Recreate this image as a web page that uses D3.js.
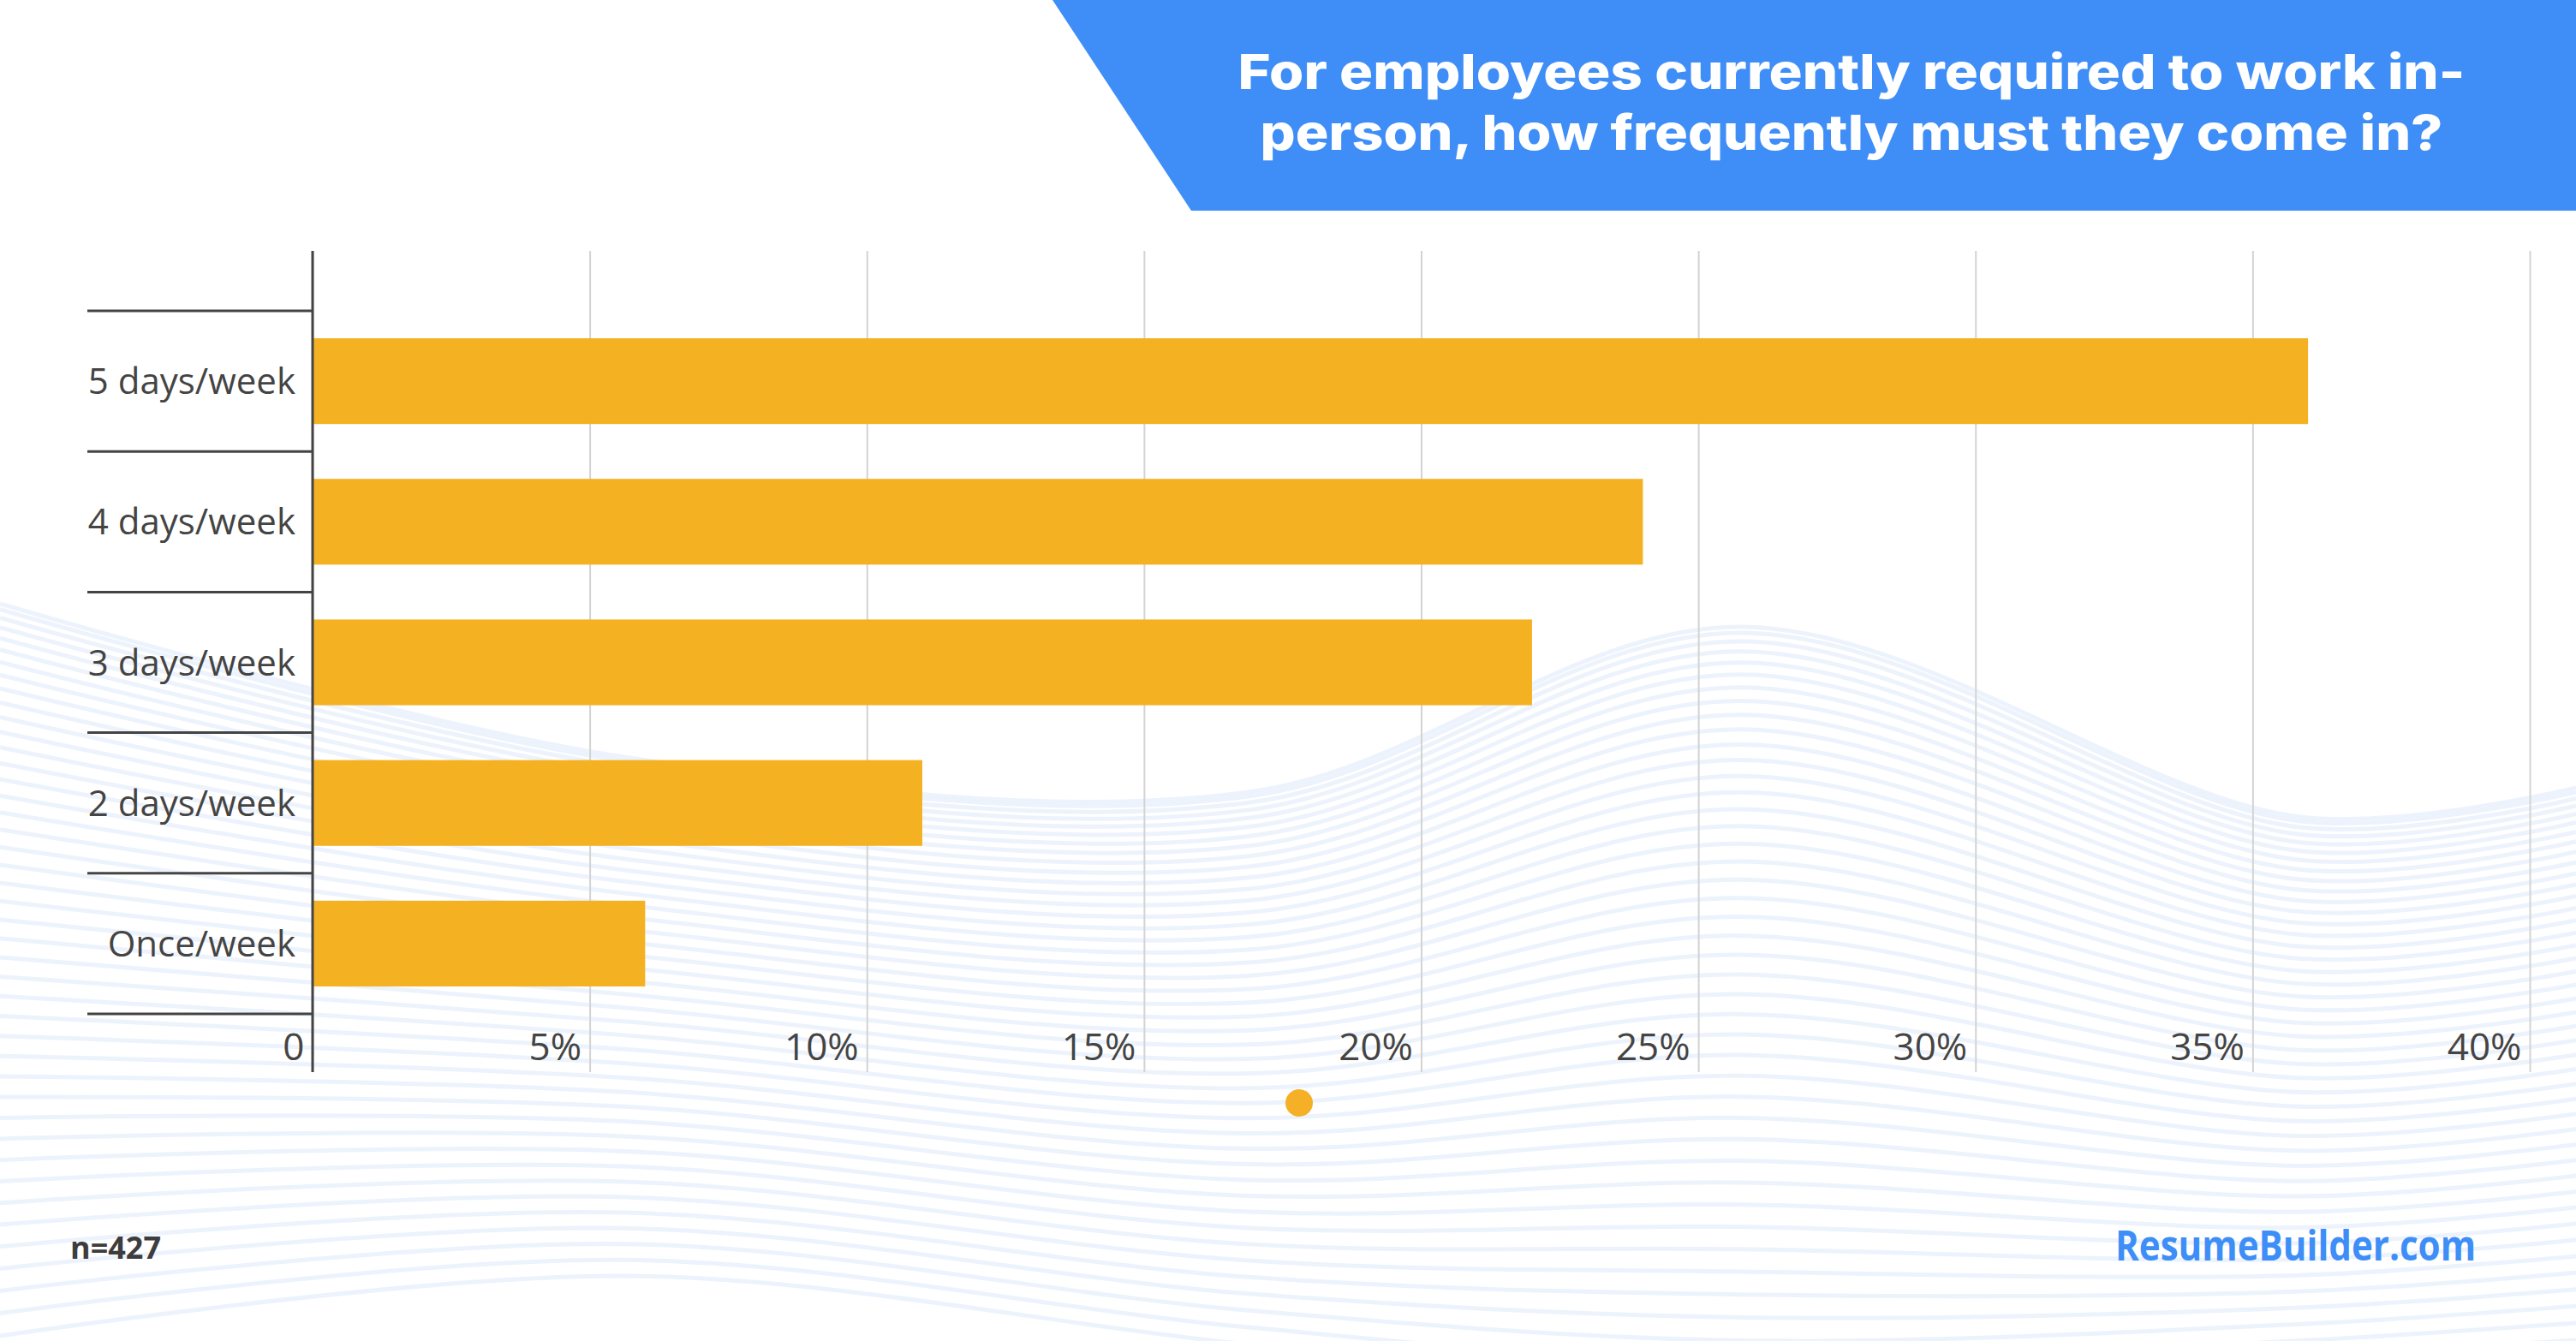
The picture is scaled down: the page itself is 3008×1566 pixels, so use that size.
<!DOCTYPE html>
<html lang="en">
<head>
  <meta charset="UTF-8">
  <title>in-person frequency</title>
  <script src="https://cdn.jsdelivr.net/npm/d3@7"></script>
  <style>
    body { margin: 0; background: #fff; }
    svg { display: block; }
  </style>
</head>
<body>
<script>
let width = 3008;
let height = 1566;

// data
let categories = ['5 days/week', '4 days/week', '3 days/week', '2 days/week', 'Once/week'];
let values = [36, 24, 22, 11, 6];
let xTicks = [0, 5, 10, 15, 20, 25, 30, 35, 40];
let titleLines = ['For employees currently required to work in-', 'person, how frequently must they come in?'];
let sampleNote = 'n=427';
let brand = 'ResumeBuilder.com';

// background wave contours (decoration only)
let waveX = [0, 729, 1458, 2033, 2686, 3008];
let waveTop = [705, 884, 925, 732, 954, 920];
let waveBottom = [1560, 1490, 1570, 1620, 1585, 1565];

let plotTop = 293;
let plotBottom = 1252;

let svg = d3.select('body')
  .append('svg')
  .attr('width', width)
  .attr('height', height);

function renderWaves() {
  let g = svg.append('g').attr('class', 'waves');
  let line = d3.line().curve(d3.curveCatmullRom.alpha(0.5));
  let n = 42;
  for (let i = 0; i <= n; i++) {
    let t = Math.pow(i / n, 1.3);
    let pts = waveX.map((x, k) => [x, waveTop[k] * (1 - t) + waveBottom[k] * t]);
    g.append('path')
      .attr('d', line(pts))
      .attr('fill', 'none')
      .attr('stroke', '#e3ecfa')
      .attr('stroke-opacity', 0.65)
      .attr('stroke-width', 5);
  }
}

let x = d3.scaleLinear()
  .domain([0, 40])
  .range([365, 2954]);

let y = d3.scaleBand()
  .domain(categories)
  .range([363, 1184])
  .paddingInner(0.39)
  .paddingOuter(0.195);

function renderGrid() {
  let xAxis = d3.axisBottom(x)
    .tickValues(xTicks)
    .tickSize(-(plotBottom - plotTop))
    .tickFormat(d => d === 0 ? '0' : d + '%');

  let g = svg.append('g')
    .attr('class', 'x-axis')
    .attr('transform', 'translate(0,' + plotBottom + ')')
    .call(xAxis);

  g.select('.domain').remove();
  g.selectAll('.tick line')
    .attr('stroke', '#d3d3d3')
    .attr('stroke-width', 2);
  g.selectAll('.tick text')
    .attr('x', -10)
    .attr('y', -14)
    .attr('dy', 0)
    .attr('text-anchor', 'end')
    .attr('fill', '#444')
    .style('font-family', '"Open Sans", sans-serif')
    .style('font-size', '44px');
}

function renderBars() {
  svg.append('g')
    .attr('class', 'bars')
    .selectAll('rect')
    .data(categories)
    .join('rect')
    .attr('x', x(0))
    .attr('y', d => y(d))
    .attr('width', (d, i) => x(values[i]) - x(0))
    .attr('height', y.bandwidth())
    .attr('fill', '#f4b223');
}

function renderYAxis() {
  let g = svg.append('g').attr('class', 'y-axis');
  let step = y.step();
  let bounds = categories.map(c => y(c) - step * y.paddingInner() / 2);
  bounds.push(bounds[bounds.length - 1] + step);

  g.selectAll('line.sep')
    .data(bounds)
    .join('line')
    .attr('class', 'sep')
    .attr('x1', 102)
    .attr('x2', x(0))
    .attr('y1', d => d)
    .attr('y2', d => d)
    .attr('stroke', '#444')
    .attr('stroke-width', 3);

  g.append('line')
    .attr('x1', x(0))
    .attr('x2', x(0))
    .attr('y1', plotTop)
    .attr('y2', plotBottom)
    .attr('stroke', '#444')
    .attr('stroke-width', 3);

  g.selectAll('text')
    .data(categories)
    .join('text')
    .attr('x', x(0) - 20)
    .attr('y', d => y(d) + y.bandwidth() / 2)
    .attr('dy', '0.36em')
    .attr('text-anchor', 'end')
    .attr('fill', '#444')
    .style('font-family', '"Open Sans", sans-serif')
    .style('font-size', '42px')
    .text(d => d);
}

function renderTitle() {
  svg.append('path')
    .attr('d', 'M1229,0 L3008,0 L3008,246 L1391,246 Z')
    .attr('fill', '#3f8ef7');

  // widths of the two lines as they appear in the reference
  let lineWidths = [1433, 1381];

  svg.append('g')
    .attr('class', 'title')
    .selectAll('text')
    .data(titleLines)
    .join('text')
    .attr('x', 2162)
    .attr('y', (d, i) => i === 0 ? 104 : 175)
    .attr('text-anchor', 'middle')
    .attr('fill', '#fff')
    .attr('textLength', (d, i) => lineWidths[i])
    .attr('lengthAdjust', 'spacingAndGlyphs')
    .style('font-family', 'Inter, "Open Sans", sans-serif')
    .style('font-weight', 800)
    .style('font-size', '57px')
    .text(d => d);
}

function renderFooter() {
  svg.append('circle')
    .attr('cx', 1517)
    .attr('cy', 1288)
    .attr('r', 16)
    .attr('fill', '#f5b027');

  svg.append('text')
    .attr('x', 82)
    .attr('y', 1470)
    .attr('fill', '#3d3d3d')
    .style('font-family', '"Open Sans", sans-serif')
    .style('font-weight', 700)
    .style('font-size', '36px')
    .text(sampleNote);

  svg.append('text')
    .attr('x', 2470)
    .attr('y', 1472)
    .attr('fill', '#3e8ef7')
    .attr('textLength', 421)
    .attr('lengthAdjust', 'spacingAndGlyphs')
    .style('font-family', '"Open Sans", sans-serif')
    .style('font-weight', 700)
    .style('font-size', '48px')
    .text(brand);
}

renderWaves();
renderGrid();
renderBars();
renderYAxis();
renderTitle();
renderFooter();
</script>
</body>
</html>
